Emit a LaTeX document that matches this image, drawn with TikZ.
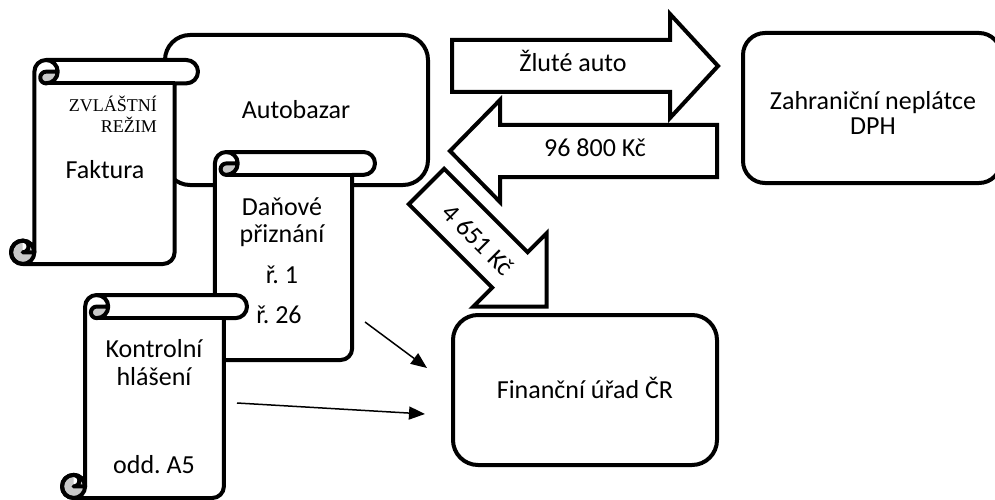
\documentclass[tikz,border=0pt]{standalone}
\usepackage{fontspec}
\setmainfont{Carlito}
\newfontfamily\regimefont{Liberation Serif}
\usetikzlibrary{arrows.meta}
\frenchspacing

\definecolor{curlgrey}{RGB}{200,200,200}

\tikzset{
  scrollline/.style={line width=4pt, line join=round},
  roundbox/.style={draw, line width=4pt, fill=white, rounded corners=25pt, inner sep=0pt},
  blockarrow/.style={draw, line width=4pt, fill=white, line join=miter},
  txt/.style={inner sep=0pt, anchor=base, font=\fontsize{26}{25}\selectfont\frenchspacing},
  regime/.style={inner sep=0pt, anchor=base east, font=\regimefont\fontsize{18}{20}\selectfont},
  link/.style={line width=1.5pt, -{Triangle[length=16pt,width=13pt]}},
}

% Vertical document scroll: left, top, right, bottom (y grows downwards)
\newcommand{\docscroll}[4]{%
  \pgfmathsetmacro\scC{min(#3-#1,#4-#2)/8}%
  \pgfmathsetmacro\scH{\scC/2}%
  \pgfmathsetmacro\scQ{\scC/4}%
  \def\scPath{({#1+\scC},{#4-\scH}) -- ({#1+\scC},{#2+\scH})
    arc[start angle=180, end angle=270, radius=\scH]
    -- ({#3-\scH},#2)
    arc[start angle=270, end angle=450, radius=\scH]
    -- ({#3-\scC},{#2+\scC})
    -- ({#3-\scC},{#4-\scH})
    arc[start angle=0, end angle=90, radius=\scH]
    -- ({#1+\scH},#4)
    arc[start angle=90, end angle=360, radius=\scH] -- cycle}%
  % paper
  \fill[white] \scPath;
  % shaded inner parts of the two curls
  \fill[curlgrey] ({#1+2*\scC},{#2+\scH}) arc[start angle=0, end angle=90, radius=\scH]
    arc[start angle=90, end angle=270, radius=\scQ] -- cycle;
  \fill[curlgrey] ({#1+\scH},{#4-\scH}) circle[radius=\scH];
  \fill[white] ({#1+\scH},{#4-\scC}) arc[start angle=270, end angle=450, radius=\scQ] -- cycle;
  % outline
  \draw[scrollline] \scPath;
  \draw[scrollline] ({#3-\scC},{#2+\scC}) -- ({#1+\scC+\scH},{#2+\scC});
  \draw[scrollline] ({#1+\scC+\scH},#2) arc[start angle=270, end angle=450, radius=\scH]
    arc[start angle=90, end angle=270, radius=\scQ] -- ({#1+2*\scC},{#2+\scH});
  \draw[scrollline] ({#1+\scH},{#4-\scH}) circle[radius=\scH];
  \draw[scrollline] ({#1+\scH},{#4-\scC}) arc[start angle=270, end angle=450, radius=\scQ]
    -- ({#1+\scC},{#4-\scH});
}

\begin{document}
\begin{tikzpicture}[x=1pt, y=-1pt]
\useasboundingbox (0,0) rectangle (995,500);
\clip (0,0) rectangle (995,500);

% parties
\node[roundbox, minimum width=263pt, minimum height=150pt] (bazar) at (296.5,110) {};
\node[roundbox, rounded corners=22pt, minimum width=258pt, minimum height=150pt] (foreign) at (872,108) {};
\node[roundbox, minimum width=264pt, minimum height=150pt] (office) at (585,390) {};
\node[txt] (bazarT) at (296,119) {Autobazar};
\node[txt] (foreignT1) at (873,110) {Zahraniční neplátce};
\node[txt] (foreignT2) at (873,135) {DPH};
\node[txt] (officeT) at (585,398) {Finanční úřad ČR};

% car goes abroad
\begin{scope}[shift={(452,66)}]
  \draw[blockarrow] (0,-26) -- (218,-26) -- (218,-52) -- (266,0) -- (218,52) -- (218,26) -- (0,26) -- cycle;
\end{scope}
% payment comes back
\begin{scope}[shift={(717,151)}, rotate=180]
  \draw[blockarrow] (0,-26) -- (217,-26) -- (217,-51) -- (267,0) -- (217,51) -- (217,26) -- (0,26) -- cycle;
\end{scope}
% tax paid to the office
\begin{scope}[shift={(426.5,186.5)}, rotate=-45]
  \draw[blockarrow] (0,-25) -- (118,-25) -- (118,-52) -- (170,0) -- (118,52) -- (118,25) -- (0,25) -- cycle;
\end{scope}
\node[txt] (carT) at (573,72) {Žluté auto};
\node[txt] (payT) at (595,157) {96 800 Kč};
\node[txt, anchor=center, rotate=-45] (vatT) at (478,240) {4 651 Kč};

% invoice
\docscroll{11}{60}{198}{264}
\node[regime] (regT1) at (157,112) {ZVLÁŠTNÍ};
\node[regime] (regT2) at (157,132) {REŽIM};
\node[txt] (invT) at (105,178) {Faktura};

% tax return
\docscroll{192}{152}{375}{360}
\node[txt] (retT1) at (282,215) {Daňové};
\node[txt] (retT2) at (282,242) {přiznání};
\node[txt] (retT3) at (282,283) {ř. 1};
\node[txt] (retT4) at (279,323) {ř. 26};

% control statement
\docscroll{62}{295}{247}{498}
\node[txt] (ctlT1) at (154,357) {Kontrolní};
\node[txt] (ctlT2) at (154,385) {hlášení};
\node[txt] (ctlT3) at (154,473) {odd. A5};

% filings sent to the tax office
\coordinate (retOut) at (365,322);
\coordinate (retIn) at (427,368);
\coordinate (ctlOut) at (237,403);
\coordinate (ctlIn) at (425,414);
\draw[link] (retOut) -- (retIn);
\draw[link] (ctlOut) -- (ctlIn);
\end{tikzpicture}
\end{document}
